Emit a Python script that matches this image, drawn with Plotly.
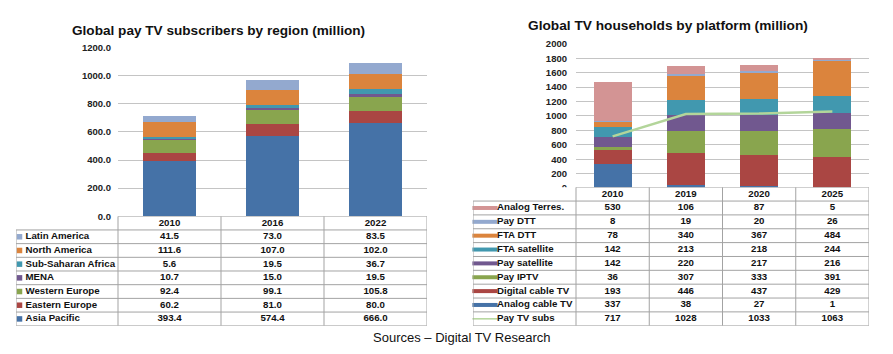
import plotly.graph_objects as go

W, H = 893, 354

# ---------------- data: left chart ----------------
region_years = ['2010', '2016', '2022']
region_names = ['Latin America', 'North America', 'Sub-Saharan Africa', 'MENA',
                'Western Europe', 'Eastern Europe', 'Asia Pacific']
latin_america = [41.5, 73.0, 83.5]
north_america = [111.6, 107.0, 102.0]
sub_saharan_africa = [5.6, 19.5, 36.7]
mena = [10.7, 15.0, 19.5]
western_europe = [92.4, 99.1, 105.8]
eastern_europe = [60.2, 81.0, 80.0]
asia_pacific = [393.4, 574.4, 666.0]

# ---------------- data: right chart ----------------
platform_years = ['2010', '2019', '2020', '2025']
platform_names = ['Analog Terres.', 'Pay DTT', 'FTA DTT', 'FTA satellite', 'Pay satellite',
                  'Pay IPTV', 'Digital cable TV', 'Analog cable TV', 'Pay TV subs']
analog_terres = [530, 106, 87, 5]
pay_dtt = [8, 19, 20, 26]
fta_dtt = [78, 340, 367, 484]
fta_satellite = [142, 213, 218, 244]
pay_satellite = [142, 220, 217, 216]
pay_iptv = [36, 307, 333, 391]
digital_cable_tv = [193, 446, 437, 429]
analog_cable_tv = [337, 38, 27, 1]
pay_tv_subs = [717, 1028, 1033, 1063]

# ---------------- styles ----------------
region_series = [  # table order (top to bottom)
    (latin_america, '#93A9CF'),
    (north_america, '#DB843D'),
    (sub_saharan_africa, '#4198AF'),
    (mena, '#71588F'),
    (western_europe, '#89A54E'),
    (eastern_europe, '#AA4643'),
    (asia_pacific, '#4572A7'),
]
platform_series = [
    (analog_terres, '#D39494'),
    (pay_dtt, '#93A9CF'),
    (fta_dtt, '#DB843D'),
    (fta_satellite, '#4198AF'),
    (pay_satellite, '#71588F'),
    (pay_iptv, '#89A54E'),
    (digital_cable_tv, '#AA4643'),
    (analog_cable_tv, '#4572A7'),
]
line_color = '#B3D59A'
FONT = 'Liberation Sans, Arial, sans-serif'
GRID = '#C4C4C4'
TLINE = '#A3A3A3'


def px(x):
    return x / W


def py(y):
    return 1 - y / H


fig = go.Figure()

# ---- left stacked bars (bottom to top) ----
for (vals, col), name in reversed(list(zip(region_series, region_names))):
    fig.add_trace(go.Bar(x=region_years, y=vals, name=name, marker=dict(color=col, line=dict(width=0)),
                         width=0.515, xaxis='x', yaxis='y', showlegend=False))

# ---- right stacked bars ----
for (vals, col), name in reversed(list(zip(platform_series, platform_names[:-1]))):
    fig.add_trace(go.Bar(x=platform_years, y=vals, name=name, marker=dict(color=col, line=dict(width=0)),
                         width=0.52, xaxis='x2', yaxis='y2', showlegend=False))
fig.add_trace(go.Scatter(x=platform_years, y=pay_tv_subs, mode='lines', name='Pay TV subs',
                         line=dict(color=line_color, width=2.5), xaxis='x2', yaxis='y2',
                         showlegend=False))

tfont = dict(family=FONT, size=9.7, color='#111111', weight='bold')

# ---- left table ----
L_unit = (427 - 118) / 3.0
L_left = -0.5 - (118 - 16) / L_unit
L_rows = len(region_names) + 1


def lx(p):
    return L_left + (p - 16) / L_unit


fig.add_trace(go.Scatter(x=list(range(3)), y=[0.5] * 3, text=region_years, mode='text',
                         textfont=tfont, xaxis='x3', yaxis='y3', showlegend=False, cliponaxis=False))
for r, ((vals, col), name) in enumerate(zip(region_series, region_names), start=1):
    fig.add_trace(go.Scatter(x=list(range(3)), y=[r + 0.5] * 3, text=[f'{v:.1f}' for v in vals],
                             mode='text', textfont=tfont, xaxis='x3', yaxis='y3',
                             showlegend=False, cliponaxis=False))
    fig.add_trace(go.Scatter(x=[lx(19.5)], y=[r + 0.5], mode='markers',
                             marker=dict(symbol='square', size=5.5, color=col, line=dict(width=0)),
                             xaxis='x3', yaxis='y3', showlegend=False, cliponaxis=False))
    fig.add_trace(go.Scatter(x=[lx(25.5)], y=[r + 0.5], text=[name], mode='text',
                             textposition='middle right', textfont=tfont,
                             xaxis='x3', yaxis='y3', showlegend=False, cliponaxis=False))

# ---- right table ----
R_unit = (869 - 576) / 4.0
R_left = -0.5 - (576 - 473) / R_unit
R_rows = len(platform_names) + 1


def rx(p):
    return R_left + (p - 473) / R_unit


fig.add_trace(go.Scatter(x=list(range(4)), y=[0.5] * 4, text=platform_years, mode='text',
                         textfont=tfont, xaxis='x4', yaxis='y4', showlegend=False, cliponaxis=False))
all_platform = platform_series + [(pay_tv_subs, line_color)]
for r, ((vals, col), name) in enumerate(zip(all_platform, platform_names), start=1):
    fig.add_trace(go.Scatter(x=list(range(4)), y=[r + 0.5] * 4, text=[str(v) for v in vals],
                             mode='text', textfont=tfont, xaxis='x4', yaxis='y4',
                             showlegend=False, cliponaxis=False))
    thick = 1.5 if name == 'Pay TV subs' else 4
    fig.add_trace(go.Scatter(x=[rx(485)], y=[r + 0.5], mode='markers',
                             marker=dict(symbol='line-ew', size=18, color=col,
                                         line=dict(width=thick, color=col)),
                             xaxis='x4', yaxis='y4', showlegend=False, cliponaxis=False))
    fig.add_trace(go.Scatter(x=[rx(497)], y=[r + 0.5], text=[name], mode='text',
                             textposition='middle right', textfont=tfont,
                             xaxis='x4', yaxis='y4', showlegend=False, cliponaxis=False))

# ---- table grid lines ----
shapes = []


def tline(xr, yr, x0, y0, x1, y1):
    shapes.append(dict(type='line', xref=xr, yref=yr, x0=x0, y0=y0, x1=x1, y1=y1,
                       line=dict(color=TLINE, width=1)))


for xr, yr, left, ncol, nrow in [('x3', 'y3', L_left, 3, L_rows), ('x4', 'y4', R_left, 4, R_rows)]:
    tline(xr, yr, -0.5, 0, ncol - 0.5, 0)
    for k in range(1, nrow + 1):
        tline(xr, yr, left, k, ncol - 0.5, k)
    tline(xr, yr, left, 1, left, nrow)
    for c in range(ncol + 1):
        tline(xr, yr, c - 0.5, 0, c - 0.5, nrow)

hidden = dict(showgrid=False, zeroline=False, showticklabels=False, showline=False, fixedrange=True)
tick = dict(family=FONT, size=9.5, color='#222222', weight='bold')

fig.update_layout(
    width=W, height=H, margin=dict(l=0, r=0, t=0, b=0),
    paper_bgcolor='white', plot_bgcolor='white', barmode='stack',
    font=dict(family=FONT),
    xaxis=dict(domain=[px(118), px(427)], anchor='y', type='category', range=[-0.5, 2.5], **hidden),
    yaxis=dict(domain=[py(217), py(43)], anchor='x', range=[0, 1200], dtick=200, tickformat='.1f',
               showgrid=True, gridcolor=GRID, gridwidth=1, zeroline=False, showline=False,
               tickfont=tick, ticklabelstandoff=6),
    xaxis2=dict(domain=[px(576), px(869)], anchor='y2', type='category', range=[-0.5, 3.5], **hidden),
    yaxis2=dict(domain=[py(188), py(39)], anchor='x2', range=[0, 2000], dtick=200, tickformat='d',
                showgrid=True, gridcolor=GRID, gridwidth=1, zeroline=False, showline=False,
                tickfont=tick, ticklabelstandoff=8),
    xaxis3=dict(domain=[px(16), px(427)], anchor='y3', range=[L_left, 2.5], **hidden),
    yaxis3=dict(domain=[py(330), py(217)], anchor='x3', range=[L_rows, 0], **hidden),
    xaxis4=dict(domain=[px(473), px(869)], anchor='y4', range=[R_left, 3.5], **hidden),
    yaxis4=dict(domain=[py(330), py(187)], anchor='x4', range=[R_rows, 0], **hidden),
    shapes=shapes,
    annotations=[
        dict(text='Global pay TV subscribers by region (million)', xref='paper', yref='paper',
             x=px(218), y=py(25), xanchor='center', yanchor='middle', showarrow=False,
             font=dict(family=FONT, size=13.6, color='#111111', weight='bold')),
        dict(text='Global TV households by platform (million)', xref='paper', yref='paper',
             x=px(668), y=py(20), xanchor='center', yanchor='middle', showarrow=False,
             font=dict(family=FONT, size=13.7, color='#111111', weight='bold')),
        dict(text='Sources – Digital TV Research', xref='paper', yref='paper',
             x=px(462), y=py(342), xanchor='center', yanchor='middle', showarrow=False,
             font=dict(family=FONT, size=13, color='#111111')),
    ],
)

fig.write_html('out.html')
